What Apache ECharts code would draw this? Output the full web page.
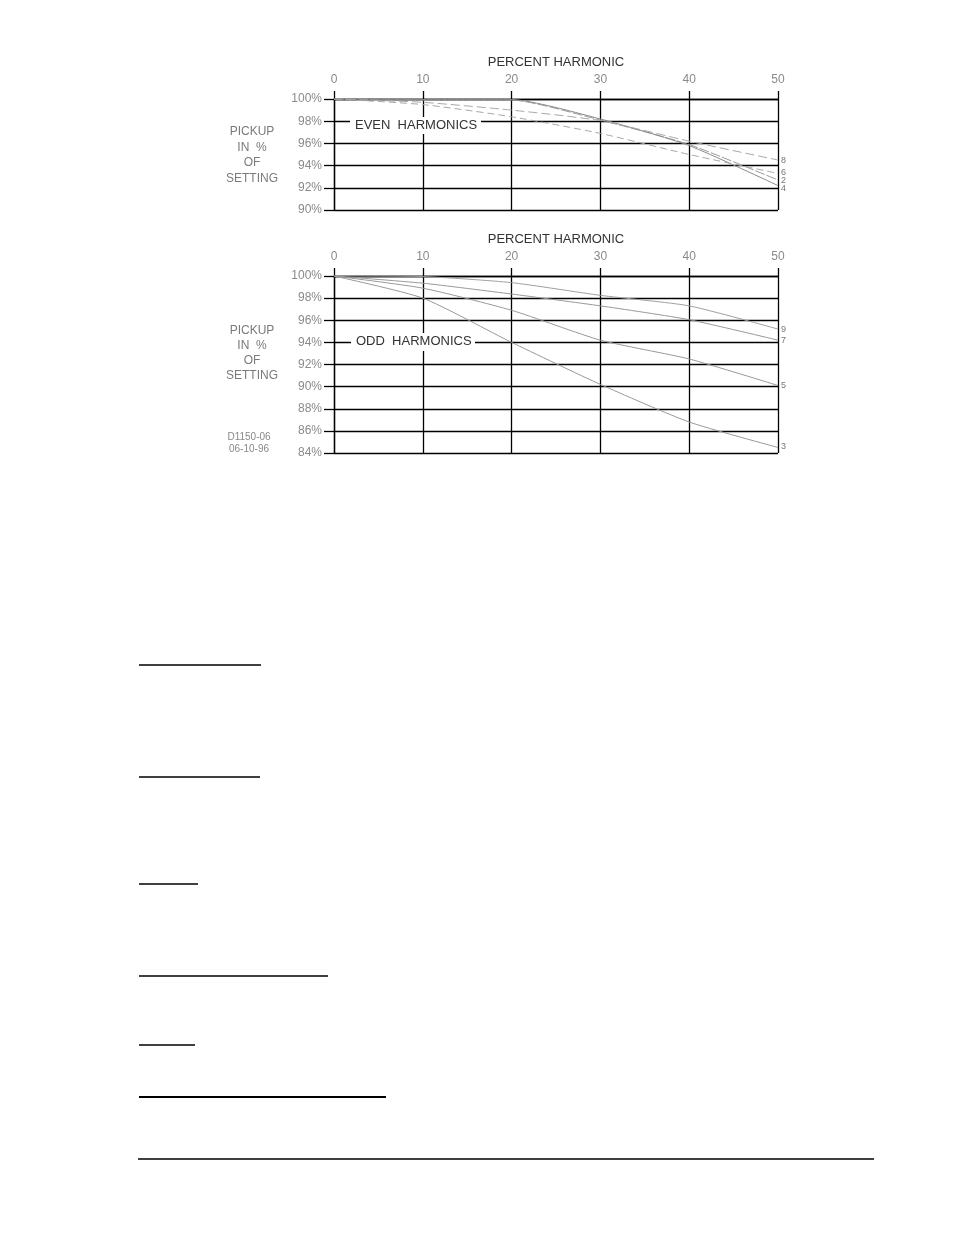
<!DOCTYPE html>
<html>
<head>
<meta charset="utf-8">
<script src="https://cdn.jsdelivr.net/npm/echarts@6/dist/echarts.min.js"></script>
<style>
html,body{margin:0;padding:0;background:#fff;}
#c{width:954px;height:1235px;}
</style>
</head>
<body>
<div id="c"></div>
<script>
// ---- data ----
const harmonicPct = [0, 10, 20, 30, 40, 50];
const xTicks = [0, 10, 20, 30, 40, 50];

// even harmonics (pickup in % of setting)
const even2 = [100, 99.9, 99.9, 98.1, 95.9, 92.7];
const even4 = [100, 99.95, 99.95, 98.2, 95.8, 92.2];
const even6 = [100, 99.5, 98.4, 96.9, 95.0, 93.3];
const even8 = [100, 99.7, 99.0, 98.05, 96.2, 94.5];

// odd harmonics
const odd3 = [100, 98.0, 94.0, 90.2, 86.8, 84.5];
const odd5 = [100, 98.9, 96.9, 94.2, 92.5, 90.1];
const odd7 = [100, 99.35, 98.37, 97.3, 96.05, 94.2];
const odd9 = [100, 99.95, 99.4, 98.25, 97.3, 95.2];

const evenNames = ['2', '4', '6', '8'];
const oddNames = ['3', '5', '7', '9'];
const evenYTicks = [90, 92, 94, 96, 98, 100];
const oddYTicks = [84, 86, 88, 90, 92, 94, 96, 98, 100];

const titleX = 'PERCENT HARMONIC';
const titleY = 'PICKUP\nIN  %\nOF\nSETTING';
const evenLabel = 'EVEN  HARMONICS';
const oddLabel = 'ODD  HARMONICS';
const drawingNo = 'D1150-06\n06-10-96';

// ---- chart ----
const chart = echarts.init(document.getElementById('c'), null, {renderer: 'canvas'});
const FONT = 'Liberation Sans';
const BLACK = '#000';

function pts(arr) { return harmonicPct.map((x, i) => [x, arr[i]]); }

function xAx(gi) {
  return {
    type: 'value', gridIndex: gi, position: 'top',
    min: xTicks[0], max: xTicks[xTicks.length - 1], interval: 10,
    name: titleX, nameLocation: 'middle', nameGap: 30,
    nameTextStyle: {color: '#333', fontSize: 13, fontFamily: FONT},
    axisLine: {show: true, onZero: false, lineStyle: {color: BLACK, width: 1.3}},
    axisTick: {show: true, length: 8, lineStyle: {color: BLACK, width: 1.3}},
    axisLabel: {color: '#8a8a8a', fontSize: 12, fontFamily: FONT, margin: 13},
    splitLine: {show: true, lineStyle: {color: BLACK, width: 1.3}}
  };
}
function yAx(gi, ticks) {
  return {
    type: 'value', gridIndex: gi,
    min: ticks[0], max: ticks[ticks.length - 1], interval: 2,
    axisLine: {show: true, onZero: false, lineStyle: {color: BLACK, width: 1.3}},
    axisTick: {show: true, length: 10, lineStyle: {color: BLACK, width: 1.3}},
    axisLabel: {color: '#8a8a8a', fontSize: 12, fontFamily: FONT, margin: 12, formatter: '{value}%'},
    splitLine: {show: true, lineStyle: {color: BLACK, width: 1.3}}
  };
}

const styleMap = {
  '2': {color: '#9a9a9a', type: [10, 2]},
  '4': {color: '#8c8c8c', type: 'solid'},
  '6': {color: '#a8a8a8', type: [7, 4]},
  '8': {color: '#a8a8a8', type: [9, 4]},
  '3': {color: '#999', type: 'solid'},
  '5': {color: '#999', type: 'solid'},
  '7': {color: '#999', type: 'solid'},
  '9': {color: '#a0a0a0', type: 'solid'}
};
const labelDy = {'2': 0, '4': 3, '6': -1, '8': 0, '3': -1, '5': 0, '7': 0, '9': 0};

function line(name, arr, gi) {
  const s = styleMap[name];
  return {
    type: 'line', name: name, xAxisIndex: gi, yAxisIndex: gi,
    data: pts(arr), smooth: 0.2, showSymbol: false, symbol: 'none',
    lineStyle: {color: s.color, width: 1, type: s.type},
    endLabel: {show: true, formatter: name, fontSize: 9, fontFamily: FONT,
      color: '#777', distance: 3, offset: [0, labelDy[name]]},
    emphasis: {disabled: true}, silent: true, z: 3
  };
}

const evenData = [even2, even4, even6, even8];
const oddData = [odd3, odd5, odd7, odd9];

const series = [];
evenNames.forEach((n, i) => series.push(line(n, evenData[i], 0)));
oddNames.forEach((n, i) => series.push(line(n, oddData[i], 1)));

function boxLabel(text, left, top, w, h, ty) {
  return [
    {type: 'rect', left: left, top: top, shape: {width: w, height: h},
      style: {fill: '#fff'}, z: 50, silent: true},
    {type: 'text', left: left + 5, top: ty,
      style: {text: text, fill: '#333', font: '13px "' + FONT + '"'}, z: 51, silent: true}
  ];
}

const underlines = [
  [139, 261, 665, 1.4],
  [139, 260, 777, 1.4],
  [139, 198, 884, 1.4],
  [139, 328, 976, 1.4],
  [139, 195, 1045, 1.4],
  [139, 386, 1097, 2.2],
  [138, 874, 1159, 1.5]
];

const graphic = [].concat(
  boxLabel(evenLabel, 350, 117, 131, 17, 119),
  boxLabel(oddLabel, 351, 333, 124, 18, 335),
  [
    {type: 'text', x: 252, y: 124, style: {text: titleY, fill: '#7a7a7a',
      font: '12px "' + FONT + '"', align: 'center', lineHeight: 15.5}, silent: true},
    {type: 'text', x: 252, y: 323, style: {text: titleY, fill: '#7a7a7a',
      font: '12px "' + FONT + '"', align: 'center', lineHeight: 15}, silent: true},
    {type: 'text', x: 249, y: 431, style: {text: drawingNo, fill: '#888',
      font: '10px "' + FONT + '"', align: 'center', lineHeight: 12}, silent: true}
  ],
  underlines.map(u => ({type: 'line', shape: {x1: u[0], y1: u[2], x2: u[1], y2: u[2]},
    style: {stroke: '#000', lineWidth: u[3]}, silent: true}))
);

chart.setOption({
  animation: false,
  backgroundColor: '#fff',
  grid: [
    {left: 334, top: 99, width: 444, height: 111, outerBoundsMode: 'none', containLabel: false},
    {left: 334, top: 276, width: 444, height: 177, outerBoundsMode: 'none', containLabel: false}
  ],
  xAxis: [xAx(0), xAx(1)],
  yAxis: [yAx(0, evenYTicks), yAx(1, oddYTicks)],
  series: series,
  graphic: graphic
});
</script>
</body>
</html>
